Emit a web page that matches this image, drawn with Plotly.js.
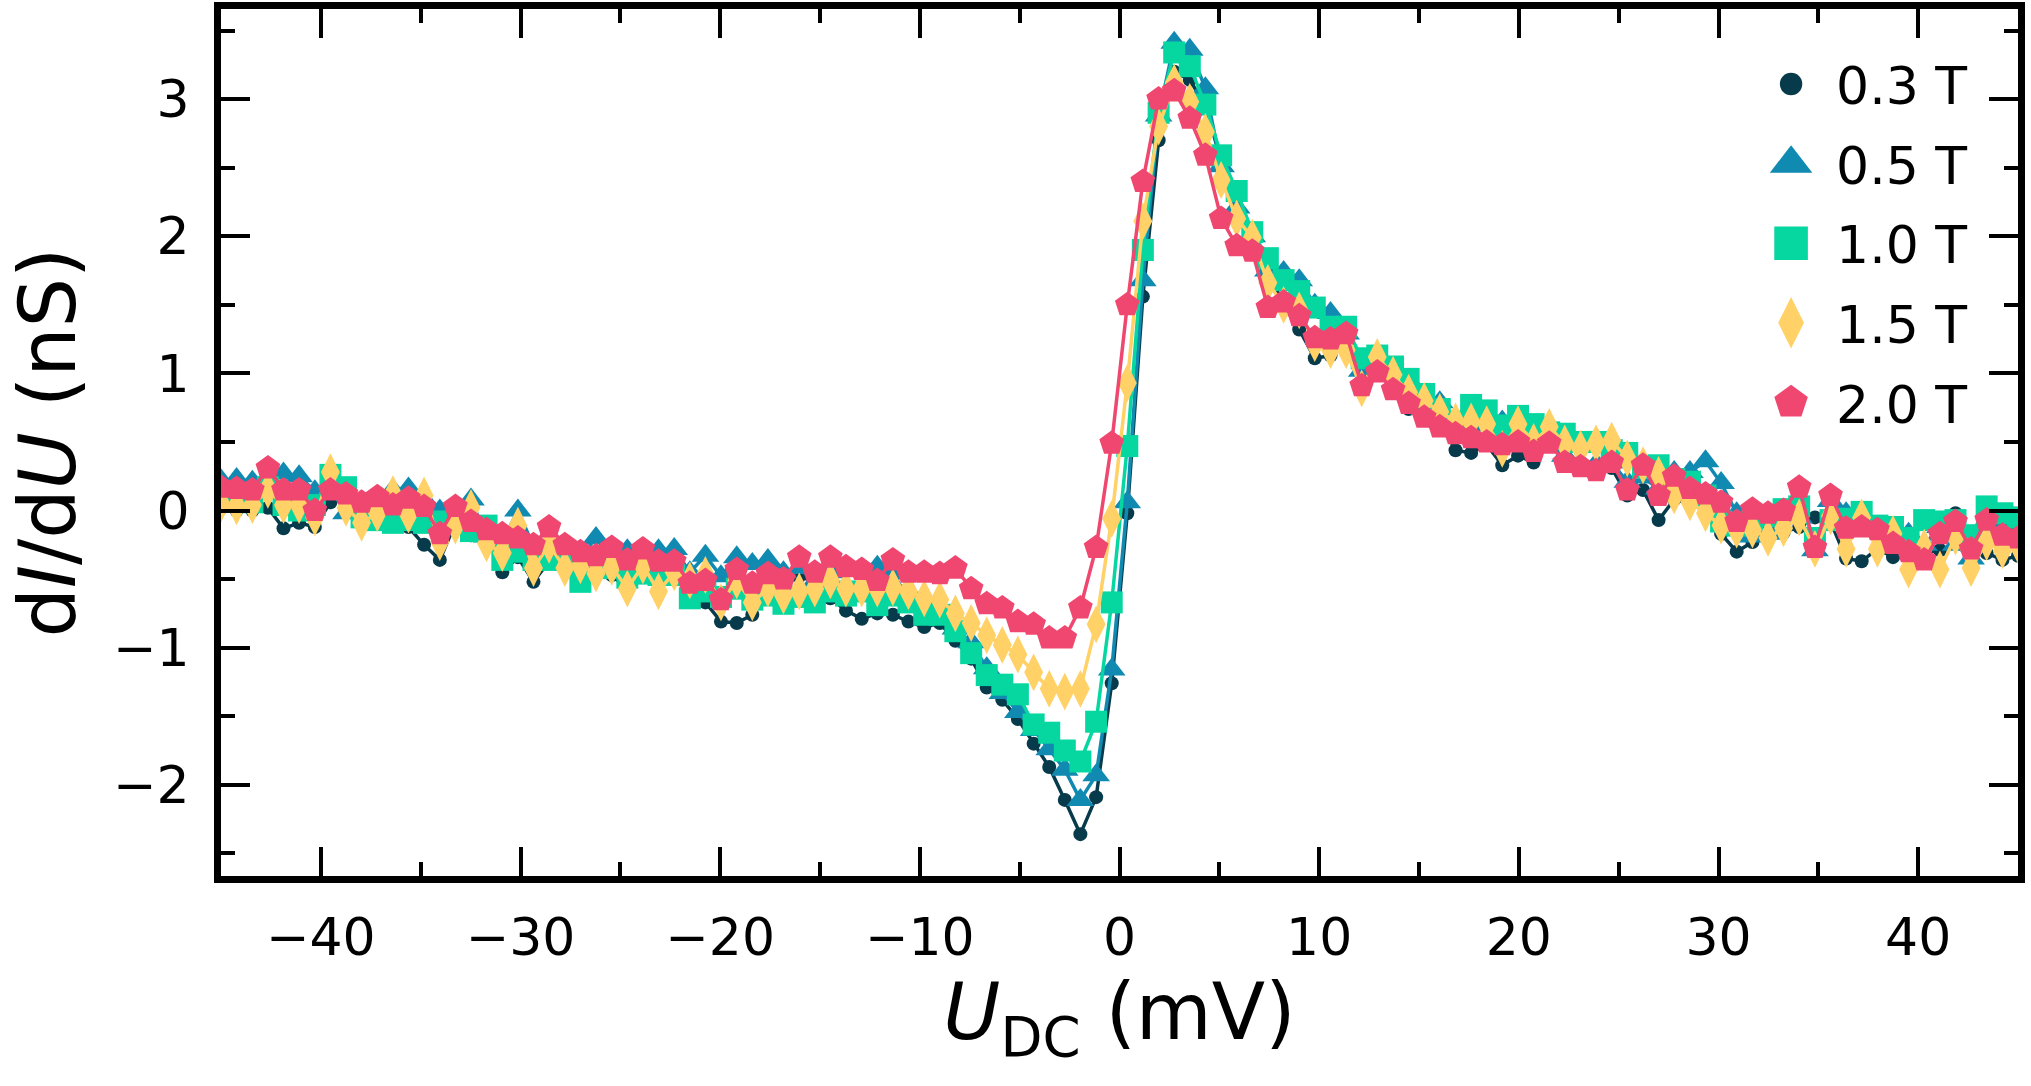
<!DOCTYPE html>
<html>
<head>
<meta charset="utf-8">
<script src="https://cdn.plot.ly/plotly-3.0.1.min.js"></script>
<style>
  body { margin: 0; background: #fff; }
  #container { width: 2031px; height: 1086px; }
</style>
</head>
<body>
<div id="container"></div>
<script>
// bias voltage (mV)
var udc = [
  -45.00, -44.22, -43.43, -42.65, -41.87, -41.09, -40.30, -39.52, -38.74, -37.96,
  -37.17, -36.39, -35.61, -34.83, -34.04, -33.26, -32.48, -31.70, -30.91, -30.13,
  -29.35, -28.57, -27.78, -27.00, -26.22, -25.43, -24.65, -23.87, -23.09, -22.30,
  -21.52, -20.74, -19.96, -19.17, -18.39, -17.61, -16.83, -16.04, -15.26, -14.48,
  -13.70, -12.91, -12.13, -11.35, -10.57, -9.78, -9.00, -8.22, -7.43, -6.65,
  -5.87, -5.09, -4.30, -3.52, -2.74, -1.96, -1.17, -0.39, 0.39, 1.17,
  1.96, 2.74, 3.52, 4.30, 5.09, 5.87, 6.65, 7.43, 8.22, 9.00,
  9.78, 10.57, 11.35, 12.13, 12.91, 13.70, 14.48, 15.26, 16.04, 16.83,
  17.61, 18.39, 19.17, 19.96, 20.74, 21.52, 22.30, 23.09, 23.87, 24.65,
  25.43, 26.22, 27.00, 27.78, 28.57, 29.35, 30.13, 30.91, 31.70, 32.48,
  33.26, 34.04, 34.83, 35.61, 36.39, 37.17, 37.96, 38.74, 39.52, 40.30,
  41.09, 41.87, 42.65, 43.43, 44.22, 45.00
];

// dI/dU (nS) for each field
var g03 = [
  0.02, 0.00, 0.00, 0.02, -0.13, -0.09, -0.12, 0.06, 0.08, 0.02,
  -0.01, -0.03, -0.12, -0.25, -0.36, -0.09, -0.18, -0.16, -0.45, -0.34,
  -0.52, -0.37, -0.42, -0.42, -0.45, -0.47, -0.58, -0.45, -0.52, -0.47,
  -0.57, -0.67, -0.81, -0.82, -0.76, -0.55, -0.55, -0.48, -0.52, -0.64,
  -0.73, -0.79, -0.75, -0.76, -0.81, -0.85, -0.82, -0.95, -1.08, -1.29,
  -1.38, -1.52, -1.70, -1.87, -2.11, -2.36, -2.09, -1.26, -0.02, 1.56,
  2.70, 3.20, 3.14, 2.95, 2.55, 2.20, 1.95, 1.75, 1.50, 1.32,
  1.11, 1.13, 1.21, 0.96, 1.01, 0.93, 0.74, 0.69, 0.65, 0.44,
  0.42, 0.48, 0.33, 0.40, 0.35, 0.48, 0.40, 0.35, 0.33, 0.31,
  0.11, 0.15, -0.07, 0.08, 0.05, 0.08, -0.17, -0.30, -0.23, -0.11,
  -0.16, -0.12, -0.05, -0.08, -0.35, -0.37, -0.28, -0.34, -0.29, -0.31,
  -0.29, -0.02, -0.25, -0.31, -0.36, -0.33
];
var g05 = [
  0.22, 0.23, 0.21, 0.20, 0.27, 0.25, 0.14, 0.16, -0.02, 0.00,
  0.06, 0.15, 0.16, 0.08, 0.00, -0.02, 0.08, -0.19, -0.23, 0.00,
  -0.26, -0.33, -0.37, -0.34, -0.20, -0.36, -0.29, -0.35, -0.29, -0.28,
  -0.45, -0.33, -0.48, -0.34, -0.39, -0.36, -0.45, -0.42, -0.52, -0.45,
  -0.59, -0.59, -0.41, -0.46, -0.64, -0.69, -0.71, -0.86, -0.96, -1.15,
  -1.33, -1.47, -1.60, -1.74, -1.89, -2.11, -1.93, -1.16, 0.06, 1.68,
  2.88, 3.41, 3.36, 3.08, 2.51, 2.21, 2.00, 1.75, 1.74, 1.68,
  1.50, 1.44, 1.29, 1.02, 1.04, 1.01, 0.95, 0.74, 0.79, 0.63,
  0.67, 0.62, 0.65, 0.55, 0.52, 0.52, 0.40, 0.35, 0.34, 0.35,
  0.21, 0.24, 0.16, 0.28, 0.28, 0.36, 0.20, -0.02, -0.19, -0.17,
  -0.05, -0.05, -0.29, 0.07, -0.02, -0.13, -0.13, -0.16, -0.17, -0.25,
  -0.12, -0.25, -0.35, -0.13, -0.10, -0.15
];
var g10 = [
  0.10, 0.08, 0.06, 0.17, 0.04, 0.00, 0.04, 0.26, 0.17, -0.05,
  -0.07, -0.09, -0.07, -0.09, -0.08, -0.09, -0.15, -0.11, -0.36, -0.30,
  -0.36, -0.36, -0.36, -0.52, -0.39, -0.42, -0.49, -0.46, -0.47, -0.47,
  -0.64, -0.59, -0.63, -0.57, -0.65, -0.62, -0.68, -0.63, -0.67, -0.59,
  -0.62, -0.59, -0.69, -0.62, -0.67, -0.76, -0.76, -0.88, -1.04, -1.20,
  -1.27, -1.34, -1.56, -1.62, -1.75, -1.83, -1.54, -0.67, 0.47, 1.90,
  2.90, 3.34, 3.24, 2.96, 2.59, 2.33, 2.03, 1.84, 1.68, 1.60,
  1.48, 1.34, 1.34, 1.11, 1.13, 1.05, 0.96, 0.85, 0.74, 0.65,
  0.77, 0.73, 0.62, 0.69, 0.63, 0.57, 0.56, 0.50, 0.50, 0.44,
  0.42, 0.31, 0.33, 0.23, 0.21, 0.11, -0.08, -0.11, -0.08, -0.04,
  0.01, 0.03, -0.20, -0.07, -0.06, -0.01, -0.11, -0.12, -0.20, -0.07,
  -0.08, -0.07, -0.18, 0.03, -0.02, -0.05
];
var g15 = [
  0.05, 0.03, 0.04, 0.15, 0.04, 0.04, -0.05, 0.28, 0.02, -0.09,
  -0.02, 0.12, -0.03, 0.11, -0.23, -0.11, 0.02, -0.24, -0.31, -0.11,
  -0.42, -0.25, -0.42, -0.40, -0.46, -0.41, -0.57, -0.40, -0.59, -0.45,
  -0.51, -0.47, -0.67, -0.51, -0.67, -0.57, -0.62, -0.59, -0.57, -0.51,
  -0.57, -0.57, -0.57, -0.56, -0.59, -0.64, -0.65, -0.75, -0.82, -0.91,
  -0.98, -1.05, -1.18, -1.30, -1.32, -1.30, -0.83, -0.06, 0.93, 2.11,
  2.80, 3.12, 2.98, 2.76, 2.41, 2.13, 1.99, 1.66, 1.50, 1.46,
  1.22, 1.17, 1.17, 0.89, 1.12, 0.99, 0.86, 0.80, 0.72, 0.65,
  0.65, 0.63, 0.45, 0.63, 0.50, 0.61, 0.49, 0.45, 0.49, 0.51,
  0.38, 0.33, 0.26, 0.11, 0.06, -0.02, -0.11, -0.14, -0.14, -0.20,
  -0.13, -0.05, -0.28, -0.04, -0.28, -0.05, -0.28, -0.17, -0.43, -0.27,
  -0.43, -0.19, -0.42, -0.23, -0.29, -0.25
];
var g20 = [
  0.17, 0.16, 0.15, 0.31, 0.15, 0.15, 0.00, 0.15, 0.12, 0.06,
  0.10, 0.04, 0.09, 0.03, -0.17, 0.03, -0.08, -0.14, -0.17, -0.20,
  -0.25, -0.12, -0.25, -0.30, -0.33, -0.27, -0.36, -0.28, -0.37, -0.37,
  -0.53, -0.51, -0.65, -0.43, -0.53, -0.46, -0.50, -0.34, -0.45, -0.34,
  -0.41, -0.43, -0.51, -0.36, -0.45, -0.45, -0.46, -0.42, -0.57, -0.68,
  -0.71, -0.81, -0.83, -0.93, -0.93, -0.71, -0.27, 0.49, 1.50, 2.40,
  3.00, 3.06, 2.86, 2.59, 2.13, 1.93, 1.89, 1.48, 1.52, 1.42,
  1.26, 1.25, 1.29, 0.91, 1.01, 0.88, 0.78, 0.68, 0.61, 0.56,
  0.53, 0.50, 0.48, 0.50, 0.43, 0.49, 0.35, 0.32, 0.29, 0.35,
  0.15, 0.33, 0.11, 0.25, 0.16, 0.12, 0.06, -0.08, 0.01, -0.02,
  0.00, 0.17, -0.27, 0.11, -0.13, -0.12, -0.14, -0.24, -0.30, -0.36,
  -0.17, -0.08, -0.28, -0.07, -0.18, -0.20
];

var names = ['0.3 T', '0.5 T', '1.0 T', '1.5 T', '2.0 T'];
var series = [g03, g05, g10, g15, g20];
var colors = ['#073B4C', '#118AB2', '#06D6A0', '#FFD166', '#EF476F'];
var symbols = ['circle', 'triangle-up', 'square', 'diamond-tall', 'pentagon'];
var sizes = [14, 24, 22, 27, 26];
// plotly caps legend symbols at 16px, so they get scaled up afterwards
var legendScale = [1.6, 2.3, 2.1, 2.3, 2.2];

var data = [];
for (var i = 0; i < series.length; i++) {
    // line first, then the markers on top (legend shows markers only)
    data.push({
        x: udc, y: series[i], type: 'scatter', mode: 'lines',
        line: {color: colors[i], width: 3.5},
        showlegend: false, hoverinfo: 'skip'
    });
    data.push({
        x: udc, y: series[i], type: 'scatter', mode: 'markers',
        name: names[i], legendgroup: names[i],
        marker: {color: colors[i], symbol: symbols[i], size: sizes[i], line: {width: 0}}
    });
}

var axisStyle = {
    showline: true, linecolor: '#000', linewidth: 7, mirror: 'allticks',
    ticks: 'inside', ticklen: 29, tickwidth: 4, tickcolor: '#000',
    showgrid: false, zeroline: false,
    tickfont: {family: 'DejaVu Sans', size: 52, color: '#000'}
};

var layout = {
    width: 2031, height: 1086,
    margin: {l: 221, r: 13, t: 9, b: 210},
    paper_bgcolor: '#fff', plot_bgcolor: '#fff',
    font: {family: 'DejaVu Sans', color: '#000'},
    xaxis: Object.assign({}, axisStyle, {
        range: [-45, 45], dtick: 10, tick0: 0,
        minor: {ticks: 'inside', ticklen: 14, tickwidth: 4, tickcolor: '#000', dtick: 5, showgrid: false},
        ticklabelstandoff: 10,
        title: {text: '<i>U</i><sub>DC</sub> (mV)', font: {family: 'DejaVu Sans', size: 78}, standoff: 0}
    }),
    yaxis: Object.assign({}, axisStyle, {
        range: [-2.665, 3.657], dtick: 1, tick0: 0,
        minor: {ticks: 'inside', ticklen: 14, tickwidth: 4, tickcolor: '#000', dtick: 0.5, showgrid: false},
        ticklabelstandoff: 14,
        title: {text: 'd<i>I</i>/d<i>U</i> (nS)', font: {family: 'DejaVu Sans', size: 78}, standoff: 14}
    }),
    legend: {
        x: 0.975, xanchor: 'right', y: 0.96, yanchor: 'top',
        bgcolor: 'rgba(0,0,0,0)', borderwidth: 0,
        font: {family: 'DejaVu Sans', size: 52, color: '#000'},
        itemwidth: 80,
        tracegroupgap: 9
    },
    showlegend: true
};

Plotly.newPlot('container', data, layout, {staticPlot: true}).then(function(gd) {
    var items = gd.querySelectorAll('.legend .traces');
    items.forEach(function(item, j) {
        var pts = item.querySelectorAll('.legendpoints path.scatterpts');
        pts.forEach(function(p) {
            var t = p.getAttribute('transform') || '';
            p.setAttribute('transform', t + ' scale(' + legendScale[j] + ')');
        });
    });
});
</script>
</body>
</html>
